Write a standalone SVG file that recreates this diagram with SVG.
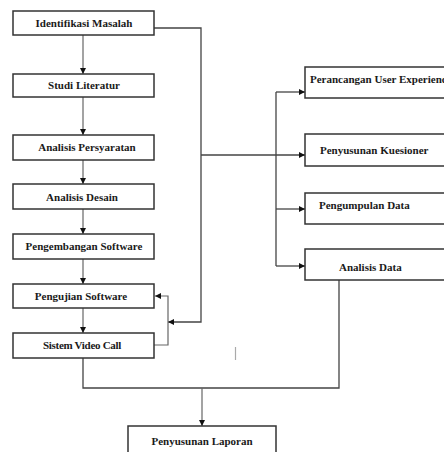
<svg xmlns="http://www.w3.org/2000/svg" width="444" height="452" viewBox="0 0 444 452">
<style>
.box{fill:#fff;stroke:#333;stroke-width:1.5}
.t{font-family:'Liberation Serif','Times New Roman','DejaVu Serif',serif;font-weight:700;font-size:11px;fill:#1a1a1a}
.c{text-anchor:middle}
.ln{fill:none;stroke:#444;stroke-width:1.3}
.lg{fill:none;stroke:#666;stroke-width:1.2}
</style>
<defs>
<marker id="ah" viewBox="0 0 10 10" refX="10" refY="5" markerWidth="6" markerHeight="6" markerUnits="userSpaceOnUse" orient="auto">
<path d="M0,0 L10,5 L0,10 z" fill="#111"/>
</marker>
</defs>
<rect width="444" height="452" fill="#fff"/>
<g id="connectors">
<line class="lg" x1="83" y1="35" x2="83" y2="74" marker-end="url(#ah)"/>
<line class="lg" x1="83" y1="97" x2="83" y2="135" marker-end="url(#ah)"/>
<line class="lg" x1="83" y1="160" x2="83" y2="184" marker-end="url(#ah)"/>
<line class="lg" x1="83" y1="209" x2="83" y2="234" marker-end="url(#ah)"/>
<line class="lg" x1="83" y1="259" x2="83" y2="284" marker-end="url(#ah)"/>
<line class="lg" x1="83" y1="308" x2="83" y2="333" marker-end="url(#ah)"/>
<polyline class="ln" points="154,28 201,28 201,322 168,322" marker-end="url(#ah)"/>
<polyline class="lg" points="154,345 168,345 168,296 155,296" marker-end="url(#ah)"/>
<line class="ln" x1="201" y1="155" x2="305" y2="155" marker-end="url(#ah)"/>
<line class="ln" x1="276" y1="92" x2="276" y2="266"/>
<line class="ln" x1="276" y1="92" x2="305" y2="92" marker-end="url(#ah)"/>
<line class="ln" x1="276" y1="209" x2="305" y2="209" marker-end="url(#ah)"/>
<line class="ln" x1="276" y1="266" x2="305" y2="266" marker-end="url(#ah)"/>
<polyline class="ln" points="339,280 339,388 83,388 83,358"/>
<line class="lg" x1="202" y1="388" x2="202" y2="426" marker-end="url(#ah)"/>
<line x1="235.5" y1="347" x2="235.5" y2="360" stroke="#aaa" stroke-width="1.2"/>
</g>
<g id="n1"><rect class="box" x="13" y="11" width="141" height="24"/><text class="t c" font-family="Liberation Serif" x="84" y="26.5">Identifikasi Masalah</text></g>
<g id="n2"><rect class="box" x="13" y="74" width="141" height="23"/><text class="t c" x="84" y="89">Studi Literatur</text></g>
<g id="n3"><rect class="box" x="13" y="135" width="141" height="25"/><text class="t c" x="87" y="151">Analisis Persyaratan</text></g>
<g id="n4"><rect class="box" x="13" y="184" width="141" height="25"/><text class="t c" x="82" y="200.5">Analisis Desain</text></g>
<g id="n5"><rect class="box" x="13" y="234" width="141" height="25"/><text class="t c" x="84" y="250">Pengembangan Software</text></g>
<g id="n6"><rect class="box" x="13" y="284" width="141" height="24"/><text class="t c" x="81" y="300">Pengujian Software</text></g>
<g id="n7"><rect class="box" x="13" y="333" width="141" height="25"/><text class="t c" x="82" y="349" letter-spacing="-0.3">Sistem Video Call</text></g>
<g id="r1"><rect class="box" x="305" y="67" width="150" height="31"/><text class="t" x="310" y="83">Perancangan User Experience</text></g>
<g id="r2"><rect class="box" x="305" y="134" width="150" height="32"/><text class="t" x="320" y="154">Penyusunan Kuesioner</text></g>
<g id="r3"><rect class="box" x="305" y="193" width="150" height="31"/><text class="t" x="319" y="209">Pengumpulan Data</text></g>
<g id="r4"><rect class="box" x="305" y="249" width="150" height="31"/><text class="t" x="339" y="271">Analisis Data</text></g>
<g id="n8"><rect class="box" x="128" y="426" width="148" height="40"/><text class="t c" x="202" y="445">Penyusunan Laporan</text></g>
</svg>
